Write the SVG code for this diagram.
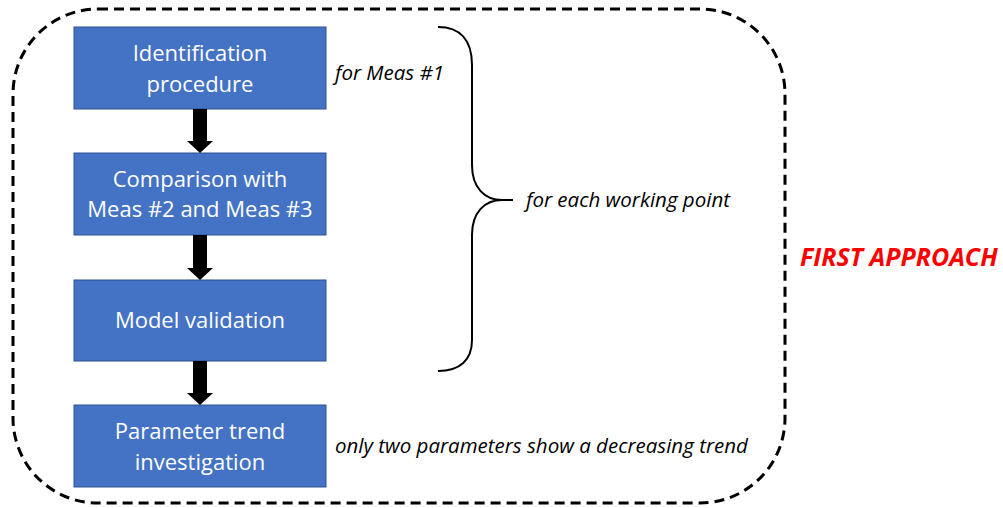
<svg xmlns="http://www.w3.org/2000/svg" width="1003" height="508" viewBox="0 0 1003 508">
<style>
.box{fill:#4472C4;stroke:#2F528F;stroke-width:1}
.bt{font-family:"Open Sans","Liberation Sans",sans-serif;font-size:22px;fill:#fff;text-anchor:middle}
.note{font-family:"Open Sans","Liberation Sans",sans-serif;font-size:20.5px;font-style:italic;fill:#000}
.arr{fill:#000}
</style>
<rect x="13" y="9" width="772" height="494" rx="85" ry="85" fill="none" stroke="#000" stroke-width="3" stroke-dasharray="10,6"/>
<g id="n1"><rect class="box" x="74" y="27" width="252" height="82"/><text class="bt" x="200" y="61">Identification</text><text class="bt" x="200" y="92">procedure</text></g>
<g id="n2"><rect class="box" x="74" y="153" width="252" height="82"/><text class="bt" x="200" y="187">Comparison with</text><text class="bt" x="200" y="217">Meas #2 and Meas #3</text></g>
<g id="n3"><rect class="box" x="74" y="280" width="252" height="81"/><text class="bt" x="200" y="328">Model validation</text></g>
<g id="n4"><rect class="box" x="74" y="405" width="252" height="82"/><text class="bt" x="200" y="439">Parameter trend</text><text class="bt" x="200" y="470">investigation</text></g>
<g id="connectors">
<path class="arr" d="M193,109 H207 V141 H213 L200,153 L187,141 H193 Z"/>
<path class="arr" d="M193,235 H207 V268 H213 L200,280 L187,268 H193 Z"/>
<path class="arr" d="M193,361 H207 V393 H213 L200,405 L187,393 H193 Z"/>
</g>
<path d="M438,27 C460,27 472,40 472,65 V165 C472,188 485,200 502,200 H513 M502,200 C485,200 472,212 472,235 V340 C472,360 460,371 438,371" fill="none" stroke="#000" stroke-width="2"/>
<text class="note" x="335" y="80">for Meas #1</text>
<text class="note" x="526" y="207">for each working point</text>
<text class="note" x="335" y="453">only two parameters show a decreasing trend</text>
<text x="800" y="266" font-family="'Open Sans','Liberation Sans',sans-serif" font-size="25" font-weight="bold" font-style="italic" fill="#FF0000">FIRST APPROACH</text>
</svg>
